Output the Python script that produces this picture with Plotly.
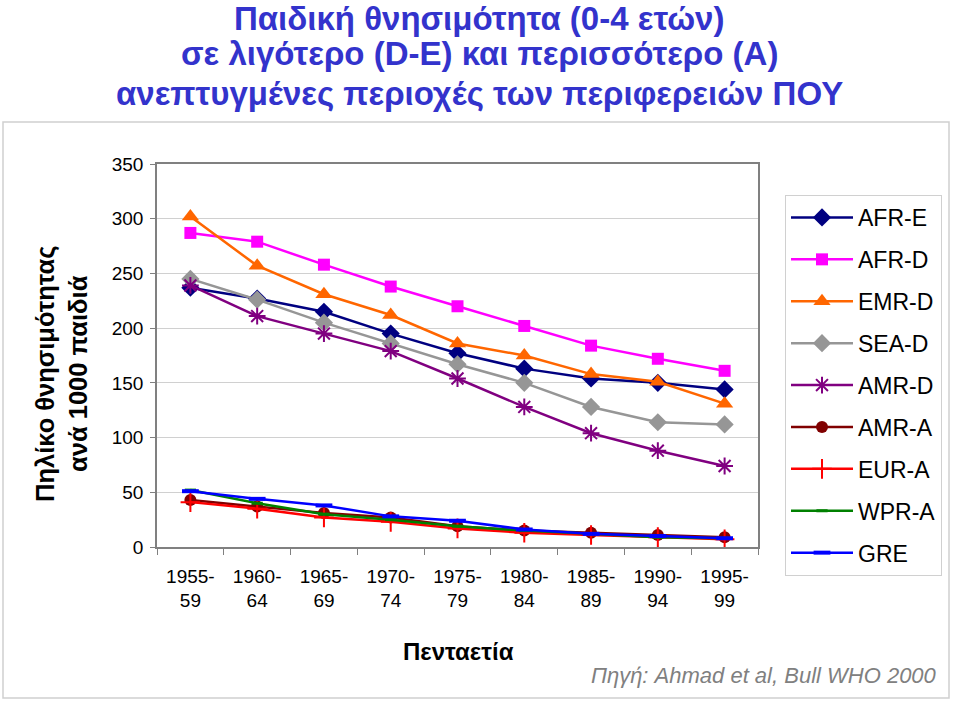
import plotly.graph_objects as go

periods = ["1955-<br>59", "1960-<br>64", "1965-<br>69", "1970-<br>74", "1975-<br>79",
           "1980-<br>84", "1985-<br>89", "1990-<br>94", "1995-<br>99"]

afr_e = [237, 227, 215, 195, 177, 163, 154, 150, 144]
afr_d = [287, 279, 258, 238, 220, 202, 184, 172, 161]
emr_d = [302, 257, 231, 212, 186, 175, 158, 151, 131]
sea_d = [245, 226, 205, 186, 167, 150, 128, 114, 112]
amr_d = [239, 211, 195, 179, 154, 128, 104, 88, 74]
amr_a = [43, 37, 31, 27, 19, 15, 13, 11, 9]
eur_a = [41, 35, 27, 23, 17, 13, 11, 9, 7]
wpr_a = [52, 40, 30, 25, 19, 15, 12, 9, 8]
gre = [51, 44, 38, 28, 24, 16, 12, 10, 8]

title_lines = ["Παιδική θνησιμότητα (0-4 ετών)",
               "σε λιγότερο (D-E) και περισσότερο (A)",
               "ανεπτυγμένες περιοχές των περιφερειών ΠΟΥ"]

series = [
    ("AFR-E", afr_e, "#000080", dict(symbol="diamond", size=14)),
    ("AFR-D", afr_d, "#FF00FF", dict(symbol="square", size=12)),
    ("EMR-D", emr_d, "#FF6600", dict(symbol="triangle-up", size=15)),
    ("SEA-D", sea_d, "#969696", dict(symbol="diamond", size=14)),
    ("AMR-D", amr_d, "#800080", dict(symbol="asterisk-open", size=14, line=dict(width=2, color="#800080"))),
    ("AMR-A", amr_a, "#800000", dict(symbol="circle", size=12)),
    ("EUR-A", eur_a, "#FF0000", dict(symbol="cross-thin-open", size=14, line=dict(width=2, color="#FF0000"))),
    ("WPR-A", wpr_a, "#008000", dict(symbol="line-ew-open", size=8, line=dict(width=3, color="#008000"))),
    ("GRE", gre, "#0000FF", dict(symbol="line-ew-open", size=12, line=dict(width=4, color="#0000FF"))),
]

fig = go.Figure()
for name, vals, color, marker in series:
    marker = dict(marker)
    marker.setdefault("color", color)
    fig.add_trace(go.Scatter(
        x=periods, y=vals, name=name, legendgroup=name,
        mode="lines+markers",
        line=dict(color=color, width=2.5),
        marker=marker,
    ))

# plot area in pixels: x 157..758, y 164..547
L, R, T, B = 157, 758, 164, 547
W, H = 960, 701


def px(x):
    return (x - L) / (R - L)


def py(y):
    return (B - y) / (B - T)


annotations = []
for text, yc in zip(title_lines, [18, 54, 94]):
    annotations.append(dict(
        text="<b>%s</b>" % text, xref="paper", yref="paper", x=px(479), y=py(yc),
        xanchor="center", yanchor="middle", showarrow=False,
        font=dict(size=33, color="#3333CC")))

annotations += [
    dict(text="<b>Πηλίκο θνησιμότητας<br>ανά 1000 παιδιά</b>", textangle=-90,
         xref="paper", yref="paper", x=px(61), y=py(374), xanchor="center", yanchor="middle",
         showarrow=False, font=dict(size=25.5, color="black")),
    dict(text="<b>Πενταετία</b>", xref="paper", yref="paper", x=px(458), y=py(651),
         xanchor="center", yanchor="middle", showarrow=False, font=dict(size=24, color="black")),
    dict(text="<i>Πηγή: Ahmad et al, Bull WHO 2000</i>", xref="paper", yref="paper",
         x=px(939), y=py(675), xanchor="right", yanchor="middle", showarrow=False,
         font=dict(size=22, color="#808080")),
]

fig.update_layout(
    width=W, height=H,
    margin=dict(l=L, r=W - R, t=T, b=H - B),
    paper_bgcolor="white", plot_bgcolor="white",
    font=dict(family="Arial, Liberation Sans, sans-serif", color="black", size=19),
    showlegend=True,
    legend=dict(
        x=px(785), y=py(195), xanchor="left", yanchor="top",
        bgcolor="white", bordercolor="#D0D0D0", borderwidth=1,
        font=dict(size=23, color="black"), tracegroupgap=9,
        itemwidth=62, maxheight=600,
    ),
    xaxis=dict(
        type="category", showgrid=False, showline=True, linecolor="#808080", linewidth=1.5,
        mirror=True, ticks="outside", tickson="boundaries", ticklen=6, tickcolor="#808080",
        tickfont=dict(size=19), range=[-0.5, 8.5], ticklabelstandoff=11,
    ),
    yaxis=dict(
        range=[0, 350], dtick=50, showgrid=True, gridcolor="#D0D0D0", gridwidth=1,
        showline=True, linecolor="#808080", linewidth=1.5, mirror=True,
        ticks="outside", ticklen=5, tickcolor="#808080", tickfont=dict(size=19),
        zeroline=False, ticklabelstandoff=3,
    ),
    annotations=annotations,
    shapes=[
        dict(type="rect", xref="paper", yref="paper", x0=px(3), x1=px(949), y0=py(698), y1=py(122),
             line=dict(color="#D0D0D0", width=1.5), layer="below"),
    ],
)

fig.write_html("out.html", config={"displayModeBar": False},
               post_script="document.body.style.margin='0px';")
